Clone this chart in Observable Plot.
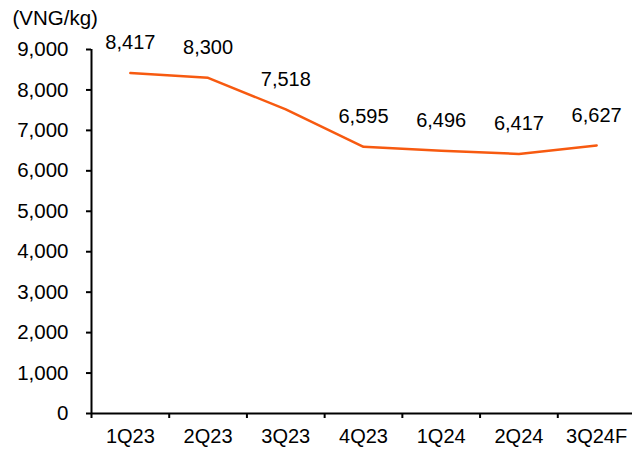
<!DOCTYPE html>
<html>
<head>
<meta charset="utf-8">
<script src="https://cdn.jsdelivr.net/npm/d3@7"></script>
<script src="https://cdn.jsdelivr.net/npm/@observablehq/plot@0.6"></script>
<style>
  html, body { margin: 0; padding: 0; background: #fff; }
  #chart { width: 632px; height: 450px; overflow: hidden; }
</style>
</head>
<body>
<div id="chart"></div>
<script>
const categories = ["1Q23", "2Q23", "3Q23", "4Q23", "1Q24", "2Q24", "3Q24F"];
const values = [8417, 8300, 7518, 6595, 6496, 6417, 6627];
const yTicks = [0, 1000, 2000, 3000, 4000, 5000, 6000, 7000, 8000, 9000];
const unitLabel = "(VNG/kg)";

const data = categories.map((c, i) => ({cat: c, idx: i + 0.5, value: values[i]}));
const boundaries = d3.range(categories.length + 1);
const font = "Liberation Sans, Arial, sans-serif";
const lineColor = "#F75A10";

const plot = Plot.plot({
  width: 632,
  height: 450,
  marginLeft: 91,
  marginRight: 0,
  marginTop: 49,
  marginBottom: 37,
  style: {fontFamily: font, fontSize: "20px", color: "#000", background: "#fff", overflow: "visible"},
  x: {type: "linear", domain: [0, categories.length], range: [91, 635]},
  y: {domain: [0, 9000]},
  marks: [
    Plot.axisY({ticks: yTicks, tickSize: 5, tickPadding: 18, tickFormat: d3.format(","), fontSize: 20.5, label: null, strokeWidth: 2}),
    Plot.axisX({ticks: boundaries, tickSize: 5, tickFormat: () => "", label: null, strokeWidth: 2}),
    Plot.text(data, {x: "idx", text: "cat", frameAnchor: "bottom", dy: 23.5, lineAnchor: "middle", fontSize: 20, fill: "#000"}),
    Plot.ruleX([0], {y1: 0, y2: 9000, stroke: "#000", strokeWidth: 2}),
    Plot.ruleY([0], {stroke: "#000", strokeWidth: 2}),
    Plot.line(data, {x: "idx", y: "value", stroke: lineColor, strokeWidth: 2.5}),
    Plot.text(data, {x: "idx", y: "value", text: d => d3.format(",")(d.value), dy: -30, lineAnchor: "middle", fontSize: 20, fill: "#000"}),
    Plot.text([unitLabel], {frameAnchor: "top-left", dx: -79, dy: -31, textAnchor: "start", lineAnchor: "middle", fontSize: 20.5, fill: "#000"})
  ]
});
document.getElementById("chart").appendChild(plot);
</script>
</body>
</html>
